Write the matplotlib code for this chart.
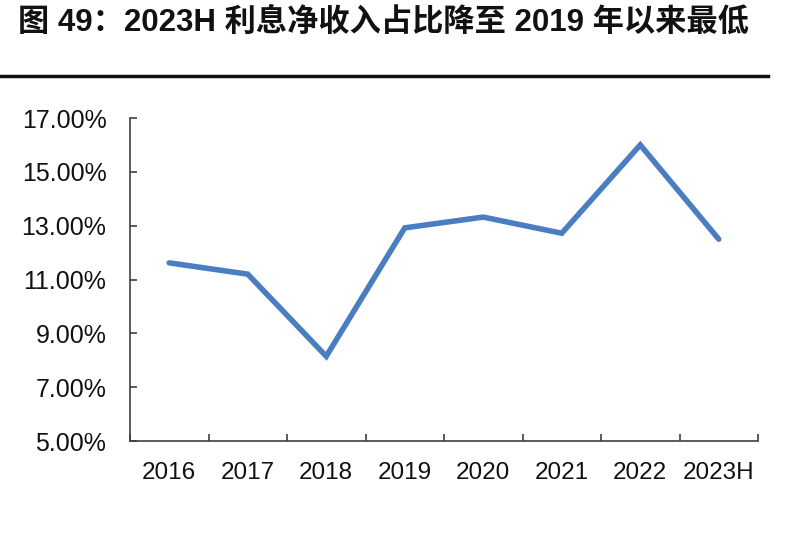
import matplotlib
matplotlib.use("Agg")
from matplotlib import pyplot as plt
from matplotlib.ticker import FuncFormatter, FixedLocator
import numpy as np

plt.rcParams['font.family'] = ['Liberation Sans', 'Noto Sans CJK SC', 'DejaVu Sans']

categories = ["2016", "2017", "2018", "2019", "2020", "2021", "2022", "2023H"]
values = [11.62, 11.2, 8.15, 12.92, 13.32, 12.72, 16.0, 12.5]
yticks = [5, 7, 9, 11, 13, 15, 17]
title = "图 49：2023H 利息净收入占比降至 2019 年以来最低"

fig = plt.figure(figsize=(8, 5.34), dpi=100)
ax = fig.add_axes([0.1625, 0.174, 0.785, 0.605])

x = np.arange(len(categories))
ax.plot(x, values, color="#4A7EC0", linewidth=4, solid_joinstyle="miter",
        solid_capstyle="round")

ax.set_xlim(-0.5, len(categories) - 0.5)
ax.set_ylim(5, 17)
ax.set_yticks(yticks)
ax.yaxis.set_major_formatter(FuncFormatter(lambda v, p: f"{v:.2f}%"))
ax.set_xticks(x)
ax.set_xticklabels(categories)
ax.xaxis.set_minor_locator(FixedLocator(np.arange(len(categories) + 1) - 0.5))

for s in ["top", "right"]:
    ax.spines[s].set_visible(False)
for s in ["left", "bottom"]:
    ax.spines[s].set_color("#404040")
    ax.spines[s].set_linewidth(1.2)

ax.tick_params(axis="y", direction="in", length=5, width=1.2, color="#404040",
               labelsize=18, pad=17, labelcolor="#111111")
ax.tick_params(axis="x", which="major", length=0, labelsize=17.5, pad=15, labelcolor="#111111")
ax.tick_params(axis="x", which="minor", direction="in", length=5, width=1.2, color="#404040")

fig.text(0.022, 0.94, title, fontsize=22.5, fontweight="bold", color="#111111",
         family=['Liberation Sans', 'Noto Sans CJK SC'], va="baseline")
fig.add_artist(plt.Line2D([0, 0.96], [0.858, 0.858], color="#111111", linewidth=2.5))

fig.savefig("out.png", dpi=100)
